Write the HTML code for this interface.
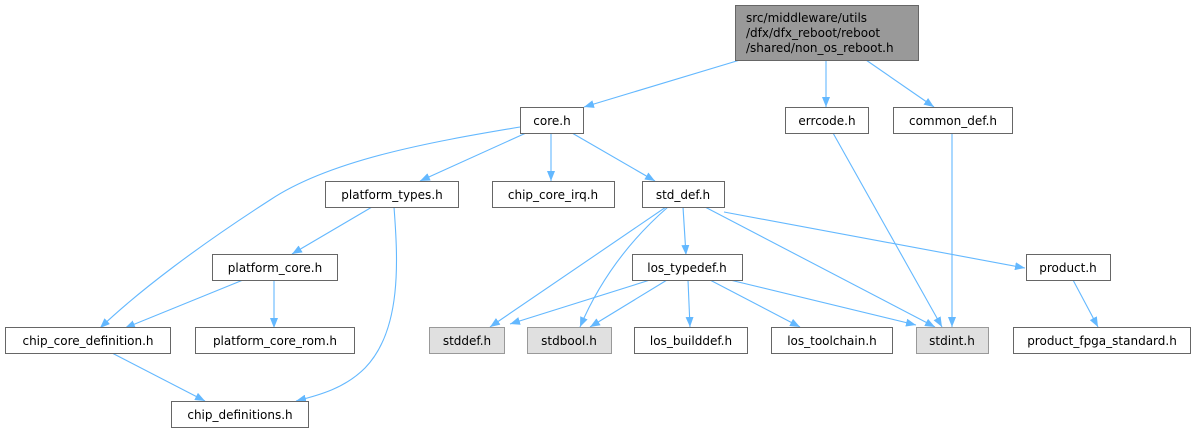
<!DOCTYPE html>
<html><head><meta charset="utf-8"><style>
html,body{margin:0;padding:0;background:#fff;width:1198px;height:432px;overflow:hidden}
text{font-family:"DejaVu Sans","Liberation Sans",sans-serif;font-size:12px;fill:#000}
</style></head><body>
<svg width="1198" height="432" viewBox="0 0 1198 432" xmlns="http://www.w3.org/2000/svg">
<defs><marker id="a" viewBox="0 0 10 8" refX="10" refY="4" markerWidth="10" markerHeight="8" orient="auto" markerUnits="userSpaceOnUse"><path d="M0,0L10,4L0,8z" fill="#63b8ff"/></marker></defs>
<g fill="none" stroke="#63b8ff" stroke-width="1.1" marker-end="url(#a)">
<path d="M740,60L584,107"/>
<path d="M826,60L826,107"/>
<path d="M866,60L934,107"/>
<path d="M520,127C430,142 330,160 270,200C200,245 140,290 100,328"/>
<path d="M526,133L420,181"/>
<path d="M551,133L551,181"/>
<path d="M572,133L655,181"/>
<path d="M372,207L292,254"/>
<path d="M394,207C398,260 402,330 365,368C345,388 320,395 296,401"/>
<path d="M243,280L125,328"/>
<path d="M274,280L274,328"/>
<path d="M112,353L205,401"/>
<path d="M666,207L490,327"/>
<path d="M668,207C630,240 600,280 580,327"/>
<path d="M683,207L686,255"/>
<path d="M705,207L935,327"/>
<path d="M724,212L1025,268"/>
<path d="M650,280L510,324"/>
<path d="M667,280L590,327"/>
<path d="M688,280L690,327"/>
<path d="M710,280L800,327"/>
<path d="M730,280L916,325"/>
<path d="M833,133L942,327"/>
<path d="M952,133L952,327"/>
<path d="M1073,280L1098,327"/>
</g>
<g stroke="#666" stroke-width="1">
<rect x="735.5" y="5.5" width="183" height="55" fill="#999"/>
<rect x="520.5" y="107.5" width="63" height="26" fill="#fff"/>
<rect x="785.5" y="107.5" width="83" height="26" fill="#fff"/>
<rect x="893.5" y="107.5" width="119" height="26" fill="#fff"/>
<rect x="325.5" y="181.5" width="133" height="26" fill="#fff"/>
<rect x="492.5" y="181.5" width="122" height="26" fill="#fff"/>
<rect x="642.5" y="181.5" width="82" height="26" fill="#fff"/>
<rect x="212.5" y="254.5" width="125" height="26" fill="#fff"/>
<rect x="632.5" y="254.5" width="110" height="26" fill="#fff"/>
<rect x="1026.5" y="254.5" width="84" height="26" fill="#fff"/>
<rect x="5.5" y="327.5" width="165" height="26" fill="#fff"/>
<rect x="195.5" y="327.5" width="159" height="26" fill="#fff"/>
<rect x="429.5" y="327.5" width="75" height="26" fill="#e0e0e0" stroke="#999"/>
<rect x="527.5" y="327.5" width="84" height="26" fill="#e0e0e0" stroke="#999"/>
<rect x="634.5" y="327.5" width="113" height="26" fill="#fff"/>
<rect x="771.5" y="327.5" width="121" height="26" fill="#fff"/>
<rect x="916.5" y="327.5" width="72" height="26" fill="#e0e0e0" stroke="#999"/>
<rect x="1013.5" y="327.5" width="177" height="26" fill="#fff"/>
<rect x="171.5" y="401.5" width="137" height="26" fill="#fff"/>
</g>
<g text-anchor="middle">
<text x="552" y="125">core.h</text>
<text x="827" y="125">errcode.h</text>
<text x="953" y="125">common_def.h</text>
<text x="392" y="199">platform_types.h</text>
<text x="553" y="199">chip_core_irq.h</text>
<text x="683" y="199">std_def.h</text>
<text x="275" y="272">platform_core.h</text>
<text x="687" y="272">los_typedef.h</text>
<text x="1068" y="272">product.h</text>
<text x="88" y="345">chip_core_definition.h</text>
<text x="275" y="345">platform_core_rom.h</text>
<text x="467" y="345">stddef.h</text>
<text x="569" y="345">stdbool.h</text>
<text x="691" y="345">los_builddef.h</text>
<text x="832" y="345">los_toolchain.h</text>
<text x="952" y="345">stdint.h</text>
<text x="1102" y="345">product_fpga_standard.h</text>
<text x="240" y="419">chip_definitions.h</text>
</g>
<text x="746" y="22">src/middleware/utils</text>
<text x="746" y="37">/dfx/dfx_reboot/reboot</text>
<text x="746" y="52">/shared/non_os_reboot.h</text>
</svg>
</body></html>
